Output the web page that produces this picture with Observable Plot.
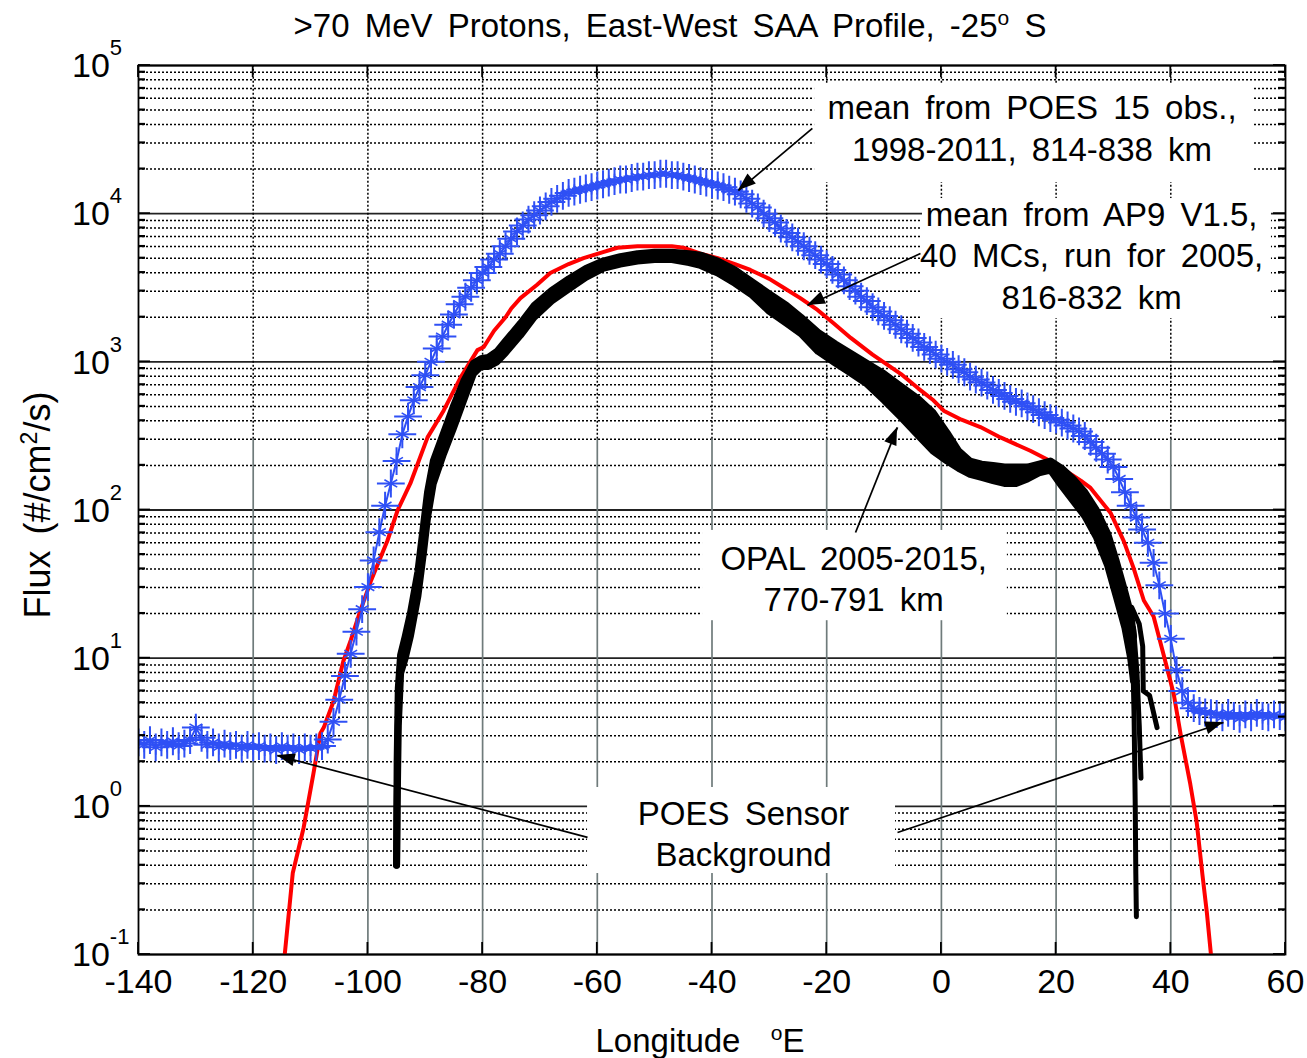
<!DOCTYPE html>
<html><head><meta charset="utf-8">
<script src="https://cdn.jsdelivr.net/npm/d3@7"></script>
<script src="https://cdn.jsdelivr.net/npm/@observablehq/plot@0.6"></script>
<style>
body{margin:0;background:#fff;font-family:"Liberation Sans",Arial,sans-serif;}
#wrap{position:relative;width:1307px;height:1058px;overflow:hidden;}
#title{position:absolute;top:6px;left:670px;transform:translateX(-50%);font-size:33px;line-height:40px;white-space:nowrap;word-spacing:6px;color:#000;}
#title .sup{position:relative;top:-12px;font-size:21px;}
#chart{position:absolute;top:50px;left:0;}
svg text{word-spacing:6px;}
</style></head><body>
<div id="wrap">
<div id="title">&gt;70 MeV Protons, East-West SAA Profile, -25<span class="sup">o</span> S</div>
<div id="chart"></div>
</div>
<script>
// ---------------- data ----------------
// POES mean (blue), one value per degree of longitude, -140 .. 60
const poesLon = d3.range(-140, 61, 1);
const poesFlux = [
  2.7, 2.6, 2.8, 2.5, 2.7, 2.6, 2.75, 2.55, 2.65, 2.8, 3.4, 2.9, 2.6, 2.7, 2.5, 2.65, 2.55, 2.6, 2.45, 2.6,
  2.5, 2.55, 2.45, 2.5, 2.4, 2.55, 2.45, 2.5, 2.4, 2.5, 2.45, 2.5, 2.55,
  2.82, 3.72, 5.25, 7.59, 10.7, 15.1, 21.4, 30.2, 45.7, 70.8, 107, 151, 214, 324, 427, 550, 676, 813, 1000, 1230,
  1480, 1780, 2090, 2450, 2750, 3160, 3550, 3980, 4370, 4900, 5370, 6030, 6760, 7590, 8320, 9120, 9770, 10500,
  11200, 12000, 12600, 13200, 13800, 14100, 14500, 14800, 15100, 15500, 15800, 16200, 16600, 17000, 17000, 17400,
  17800, 17800, 18200, 18200, 18600, 18600,
  18200, 18200, 17800, 17400, 17000, 16600, 16200, 15800, 15500, 15100, 14500, 14100, 13500, 12600, 11700, 11000,
  10000, 9330, 8710, 7940, 7410, 6920, 6460, 6030, 5620, 5250, 4900, 4570, 4170, 3890, 3550, 3240, 3020, 2750,
  2570, 2340, 2190, 2040, 1910, 1780, 1660, 1550, 1450, 1350, 1260, 1200, 1120,
  1050, 1000, 955, 891, 851, 794, 759, 724, 692, 646, 617, 589, 562, 537, 525, 501, 479, 457, 437, 417, 407, 389,
  372, 355, 339, 316, 288, 263, 240, 219, 195, 162, 132, 107, 89, 74, 60, 44, 31, 20, 13.5, 8.3, 6.0, 5.0, 4.6,
  4.4, 4.3, 4.25, 4.2, 3.98, 4.27, 4.07, 3.9, 4.17, 3.98, 4.27, 4.07, 3.98, 4.17, 4.07, 3.98
];

// AP9 V1.5 mean (red)
const ap9Lon = [-114.5, -113.1, -111.2, -109.5, -108.3, -107.7, -106.0, -104.3, -103.0, -101.3, -99.5, -96.6, -94.8,
  -92.6, -89.6, -86.8, -83.9, -80.9, -79.8, -78.0, -76.0, -75.0, -73.4, -70.5, -68.2, -65.0, -62.4, -59.0, -56.5,
  -53.0, -50.7, -47.0, -45.0, -42.0, -39.0, -36.0, -33.3, -30.0, -27.5, -24.6, -21.6, -18.8, -15.8, -12.0, -7.1,
  -4.0, -1.4, 0.4, 3.5, 6.8, 10.3, 15.5, 19.5, 24.3, 26.0, 29.5, 31.8, 33.5, 35.3, 37.0, 38.7, 40.5, 41.7, 43.4,
  44.5, 45.5, 46.3, 47.0];
const ap9Flux = [0.1, 0.355, 0.72, 1.66, 3.1, 3.4, 5.1, 9.5, 13.2, 21, 33, 62, 100, 151, 309, 468, 776, 1200, 1260,
  1620, 2000, 2290, 2690, 3310, 3980, 4570, 5010, 5500, 5890, 6030, 6030, 6030, 5890, 5370, 5010, 4570, 4170, 3630,
  3160, 2690, 2240, 1820, 1450, 1120, 830, 660, 550, 468, 407, 363, 309, 251, 209, 158, 141, 95.5, 61.7, 40.7, 24.5,
  19.1, 10.7, 5.75, 3.09, 1.41, 0.79, 0.35, 0.19, 0.1];

// OPAL 2005-2015 (black band of runs): upper and lower edge
const opalLon = [-95.0, -94.9, -94.7, -94.3, -93.5, -92.6, -91.3, -90.3, -89.6, -88.6, -86.8, -85.1, -83.3, -81.6,
  -80.3, -79.0, -77.5, -76.0, -73.4, -71.0, -68.0, -65.0, -62.0, -59.0, -56.0, -53.0, -50.0, -47.0, -44.0, -42.0,
  -39.0, -36.0, -33.0, -30.0, -27.0, -24.5, -21.5, -18.5, -16.0, -13.0, -10.0, -7.0, -4.0, -1.5, 1.0, 3.0, 5.0, 7.0,
  9.0, 11.0, 13.0, 15.0, 17.0, 19.0, 21.0, 23.0, 25.0, 27.0, 29.0, 30.5, 32.0, 33.0, 33.5];
const opalHigh = [0.40, 2.0, 6.3, 10.5, 14, 20, 38, 79, 132, 214, 331, 500, 740, 980, 1050, 1070, 1175, 1380, 1820,
  2400, 3020, 3630, 4270, 4790, 5130, 5370, 5500, 5500, 5370, 5250, 4790, 4170, 3470, 2880, 2400, 2000, 1580, 1320,
  1150, 980, 830, 680, 560, 457, 331, 251, 214, 204, 200, 195, 195, 195, 204, 214, 191, 162, 132, 100, 69, 45, 28, 20, 14];
const opalLow = [0.40, 1.0, 3.5, 7.9, 10, 14, 26, 52, 89, 151, 240, 355, 550, 830, 930, 930, 1000, 1150, 1510, 2000,
  2570, 3090, 3720, 4270, 4570, 4790, 4900, 4900, 4680, 4470, 3980, 3390, 2820, 2190, 1820, 1550, 1175, 980, 850,
  710, 550, 420, 316, 251, 214, 191, 174, 166, 158, 151, 151, 162, 178, 186, 145, 115, 91, 66, 42, 26, 16, 10, 7];
// individual OPAL runs dropping out at the east edge
const tailALon = [33.3, 33.6, 33.8, 33.9, 34.0];
const tailAFlux = [14, 4, 1, 0.35, 0.18];
const tailBLon = [33.5, 34.1, 34.5, 34.7, 34.8];
const tailBFlux = [16, 8, 3.5, 2.0, 1.55];
const tailCLon = [33.2, 34.5, 35.1, 35.2, 36.3, 37.6];
const tailCFlux = [22, 17, 12, 6.0, 5.6, 3.4];

// axes
const xTicks = [-140, -120, -100, -80, -60, -40, -20, 0, 20, 40, 60];
const yTicks = [0.1, 1, 10, 100, 1000, 10000, 100000];
const yTickExp = ["-1", "0", "1", "2", "3", "4", "5"];
const minorY = yTicks.slice(0, -1).flatMap(d => [2, 3, 4, 5, 6, 7, 8, 9].map(m => d * m));
const xGrid = [-120, -100, -80, -60, -40, -20, 0, 20, 40];
const gridSplit = 300;

// annotations
const noteText = ["mean from POES 15 obs.,\n1998-2011, 814-838 km",
  "mean from AP9 V1.5,\n40 MCs, run for 2005,\n816-832 km",
  "OPAL 2005-2015,\n770-791 km",
  "POES Sensor\nBackground"];
const noteLon = [15.8, 26.2, -15.3, -34.5];
const noteFlux = [38500, 5350, 35.3, 0.671];
const boxLon1 = [-22.1, -3.3, -41.65, -61.7];
const boxLon2 = [54.25, 57.55, 11.5, -8.0];
const boxTop = [74400, 12650, 72.8, 1.34];
const boxBottom = [16200, 1960, 17.9, 0.352];
const arrowFromLon = [-22.5, -3.65, -14.97, -61.7, -7.65];
const arrowFromFlux = [37600, 5380, 70.5, 0.617, 0.666];
const arrowToLon = [-35.4, -23.35, -7.65, -115.8, 49.2];
const arrowToFlux = [14300, 2400, 361, 2.2, 3.68];

// ---------------- tables ----------------
const poes = poesLon.map((x, i) => ({lon: x, flux: poesFlux[i]}));
const ap9 = ap9Lon.map((x, i) => ({lon: x, flux: ap9Flux[i]}));
const opal = opalLon.map((x, i) => ({lon: x, hi: opalHigh[i], lo: opalLow[i]}));
const tails = [
  ...tailALon.map((x, i) => ({id: "A", lon: x, flux: tailAFlux[i]})),
  ...tailBLon.map((x, i) => ({id: "B", lon: x, flux: tailBFlux[i]})),
  ...tailCLon.map((x, i) => ({id: "C", lon: x, flux: tailCFlux[i]}))
];
const notes = noteText.map((t, i) => ({text: t, lon: noteLon[i], flux: noteFlux[i]}));
const boxes = boxLon1.map((x, i) => ({x1: x, x2: boxLon2[i], y1: boxBottom[i], y2: boxTop[i]}));
const arrows = arrowFromLon.map((x, i) => ({x1: x, y1: arrowFromFlux[i], x2: arrowToLon[i], y2: arrowToFlux[i]}));

const BLUE = "#2f50f5";
const plot = Plot.plot({
  width: 1307, height: 1008,
  marginLeft: 138, marginRight: 22, marginTop: 15, marginBottom: 104,
  x: {domain: [-140, 60], axis: null},
  y: {type: "log", domain: [0.1, 1e5], axis: null},
  style: {fontFamily: "'Liberation Sans', Arial, sans-serif", fontSize: "34px", background: "#fff", overflow: "visible", color: "#000"},
  marks: [
    Plot.ruleY(minorY, {stroke: "#000", strokeWidth: 1.5, strokeDasharray: "2,2"}),
    Plot.ruleY(yTicks, {stroke: "#222", strokeWidth: 1.8}),
    Plot.ruleX(xGrid, {y1: gridSplit, y2: 1e5, stroke: "#000", strokeWidth: 1.5, strokeDasharray: "2,2"}),
    Plot.ruleX(xGrid, {y1: 0.1, y2: gridSplit, stroke: "#6f7b7b", strokeWidth: 1.7}),
    Plot.rect(boxes, {x1: "x1", x2: "x2", y1: "y1", y2: "y2", fill: "#fff"}),
    Plot.line(ap9, {x: "lon", y: "flux", stroke: "#ff0000", strokeWidth: 4, clip: true}),
    Plot.areaY(opal, {x: "lon", y1: "lo", y2: "hi", fill: "#000", clip: true}),
    Plot.line(opal, {x: "lon", y: "hi", stroke: "#000", strokeWidth: 7, clip: true}),
    Plot.line(opal, {x: "lon", y: "lo", stroke: "#000", strokeWidth: 7, clip: true}),
    Plot.line(tails, {x: "lon", y: "flux", z: "id", stroke: "#000", strokeWidth: 5, clip: true}),
    Plot.line(poes, {x: "lon", y: "flux", stroke: BLUE, strokeWidth: 2, clip: true}),
    Plot.dot(poes, {x: "lon", y: "flux", symbol: "plus", r: 9, stroke: BLUE, strokeWidth: 2, clip: true}),
    Plot.dot(poes, {x: "lon", y: "flux", symbol: "asterisk", r: 7, stroke: BLUE, strokeWidth: 1.6, clip: true}),
    Plot.text(notes, {x: "lon", y: "flux", text: "text", fontSize: 33, lineHeight: 1.26, fill: "#000"}),
    Plot.link(arrows, {x1: "x1", y1: "y1", x2: "x2", y2: "y2", stroke: "#000", strokeWidth: 1.7}),
    Plot.frame({stroke: "#000", strokeWidth: 1.8}),
    Plot.axisX(xTicks, {anchor: "bottom", tickSize: 0, tickPadding: 14, tickFormat: d => `${d}`, label: null, fontSize: 34})
  ]
});
document.getElementById("chart").append(plot);

// ---------------- finishing touches through the plot's scales ----------------
const X = plot.scale("x"), Y = plot.scale("y");
const sx = v => X.apply(v), sy = v => Y.apply(v);
const svg = d3.select(plot);
const L = sx(-140), R = sx(60), T = sy(1e5), B = sy(0.1);
const g = svg.append("g").attr("stroke", "#000").attr("stroke-width", 1.8);
xTicks.forEach(v => {
  g.append("line").attr("x1", sx(v)).attr("x2", sx(v)).attr("y1", B).attr("y2", B - 12);
  g.append("line").attr("x1", sx(v)).attr("x2", sx(v)).attr("y1", T).attr("y2", T + 12);
});
yTicks.forEach(v => {
  g.append("line").attr("x1", L).attr("x2", L + 12).attr("y1", sy(v)).attr("y2", sy(v));
  g.append("line").attr("x1", R).attr("x2", R - 12).attr("y1", sy(v)).attr("y2", sy(v));
});
minorY.forEach(v => {
  g.append("line").attr("x1", L).attr("x2", L + 7).attr("y1", sy(v)).attr("y2", sy(v)).attr("stroke-width", 2.2);
  g.append("line").attr("x1", R).attr("x2", R - 7).attr("y1", sy(v)).attr("y2", sy(v)).attr("stroke-width", 2.2);
});
// filled arrow heads
arrows.forEach(a => {
  const x1 = sx(a.x1), y1 = sy(a.y1), x2 = sx(a.x2), y2 = sy(a.y2);
  const ang = Math.atan2(y2 - y1, x2 - x1), len = 18, w = 6.5;
  const bx = x2 - len * Math.cos(ang), by = y2 - len * Math.sin(ang);
  const px = -Math.sin(ang) * w, py = Math.cos(ang) * w;
  svg.append("polygon").attr("fill", "#000")
    .attr("points", `${x2},${y2} ${bx + px},${by + py} ${bx - px},${by - py}`);
});
// y tick labels 10^n
const yl = svg.append("g").attr("font-size", 34).attr("text-anchor", "start").attr("fill", "#000");
yTicks.forEach((v, i) => {
  const t = yl.append("text").attr("x", 72).attr("y", sy(v)).attr("dy", "0.36em");
  t.append("tspan").text("10");
  t.append("tspan").attr("dy", -22).attr("font-size", 22).text(yTickExp[i]);
});
// axis titles
const xt = svg.append("text").attr("x", 700).attr("y", 990).attr("dy", "0.36em")
  .attr("text-anchor", "middle").attr("font-size", 33).attr("fill", "#000");
xt.append("tspan").text("Longitude  ");
xt.append("tspan").attr("dy", -12).attr("font-size", 21).text("o");
xt.append("tspan").attr("dy", 12).text("E");
const yt = svg.append("text").attr("transform", `translate(37,${455}) rotate(-90)`).attr("dy", "0.36em")
  .attr("text-anchor", "middle").attr("font-size", 36).attr("fill", "#000");
yt.append("tspan").text("Flux (#/cm");
yt.append("tspan").attr("dy", -13).attr("font-size", 23).text("2");
yt.append("tspan").attr("dy", 13).text("/s)");
</script>
</body></html>
